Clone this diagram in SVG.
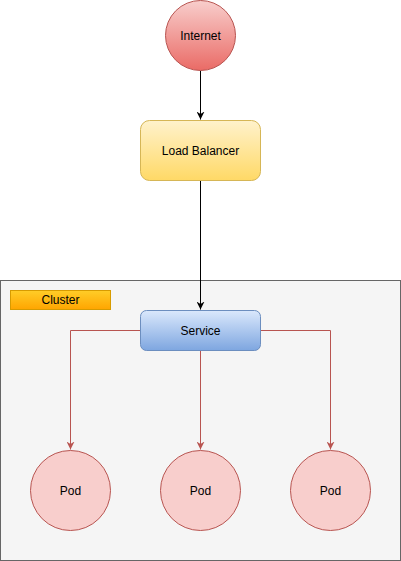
<svg xmlns="http://www.w3.org/2000/svg" width="401" height="561" viewBox="0 0 401 561">
<style>
text{font-family:"Liberation Sans",Arial,sans-serif;font-size:12px;fill:#000;text-anchor:middle;dominant-baseline:central}
.e{fill:none;stroke-width:1}
.blk{stroke:#000}
.red{stroke:#b85450}
.pod{fill:#f8cecc;stroke:#b85450}
</style>
<defs>
<linearGradient id="gI" x1="0" y1="0" x2="0" y2="1"><stop offset="0" stop-color="#f8cecc"/><stop offset="1" stop-color="#ea6b66"/></linearGradient>
<linearGradient id="gL" x1="0" y1="0" x2="0" y2="1"><stop offset="0" stop-color="#fff2cc"/><stop offset="1" stop-color="#ffd966"/></linearGradient>
<linearGradient id="gS" x1="0" y1="0" x2="0" y2="1"><stop offset="0" stop-color="#dae8fc"/><stop offset="1" stop-color="#7ea6e0"/></linearGradient>
<linearGradient id="gC" x1="0" y1="0" x2="0" y2="1"><stop offset="0" stop-color="#ffcd28"/><stop offset="1" stop-color="#ffa500"/></linearGradient>
<marker id="ab" viewBox="0 0 10 10" refX="10" refY="5" markerWidth="8" markerHeight="8" markerUnits="userSpaceOnUse" orient="auto"><path d="M0,0 L10,5 L0,10 L3,5 Z" fill="#000"/></marker>
<marker id="ar" viewBox="0 0 10 10" refX="10" refY="5" markerWidth="8" markerHeight="8" markerUnits="userSpaceOnUse" orient="auto"><path d="M0,0 L10,5 L0,10 L3,5 Z" fill="#b85450"/></marker>
</defs>
<g id="cluster">
<rect x="0.5" y="280.5" width="400" height="280" fill="#f5f5f5" stroke="#666666"/>
</g>
<g id="cluster-label">
<rect x="10.5" y="290.5" width="100" height="19" fill="url(#gC)" stroke="#d79b00"/>
<text x="60.5" y="300">Cluster</text>
</g>
<g id="connectors">
<path class="e blk" d="M200.5,70.5 V119.5" marker-end="url(#ab)"/>
<path class="e blk" d="M200.5,180.5 V309.5" marker-end="url(#ab)"/>
<path class="e red" d="M140.5,330.5 H70.5 V449.5" marker-end="url(#ar)"/>
<path class="e red" d="M200.5,350.5 V449.5" marker-end="url(#ar)"/>
<path class="e red" d="M260.5,330.5 H330.5 V449.5" marker-end="url(#ar)"/>
</g>
<g id="internet">
<circle cx="200.5" cy="35.5" r="35" fill="url(#gI)" stroke="#b85450"/>
<text x="200.5" y="35.5">Internet</text>
</g>
<g id="load-balancer">
<rect x="140.5" y="120.5" width="120" height="60" rx="9" fill="url(#gL)" stroke="#d6b656"/>
<text x="200.5" y="150.5">Load Balancer</text>
</g>
<g id="service">
<rect x="140.5" y="310.5" width="120" height="40" rx="6" fill="url(#gS)" stroke="#6c8ebf"/>
<text x="200.5" y="330.5">Service</text>
</g>
<g id="pod1">
<circle class="pod" cx="70.5" cy="490.5" r="40"/>
<text x="70.5" y="490.5">Pod</text>
</g>
<g id="pod2">
<circle class="pod" cx="200.5" cy="490.5" r="40"/>
<text x="200.5" y="490.5">Pod</text>
</g>
<g id="pod3">
<circle class="pod" cx="330.5" cy="490.5" r="40"/>
<text x="330.5" y="490.5">Pod</text>
</g>
</svg>
